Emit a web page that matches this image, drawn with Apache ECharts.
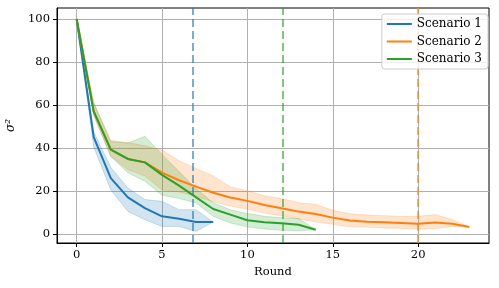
<!DOCTYPE html>
<html><head><meta charset="utf-8">
<script src="https://cdn.jsdelivr.net/npm/echarts@6/dist/echarts.min.js"></script>
<style>html,body{margin:0;padding:0;background:#fff}#c{width:499px;height:288px}</style>
</head><body><div id="c"></div>
<script>
// ---- data ----
const seriesNames = ['Scenario 1', 'Scenario 2', 'Scenario 3'];
const s1Mean = [100, 45, 26, 17, 12, 8.2, 7.1, 5.6, 5.6];
const s1Low  = [100, 40.5, 20.5, 10.5, 6.6, 3.5, 3.5, 1.2, 5.6];
const s1High = [100, 47.5, 31, 21.4, 16, 15.2, 11.3, 11.3, 5.6];

const s2Mean = [100, 57, 39.2, 34.9, 33.3, 28.5, 25, 22, 19.2, 17, 15.4, 13.5, 12, 10.4, 9.3, 7.6, 6.3, 5.7, 5.4, 5.1, 4.8, 5.3, 4.8, 3.2];
const s2Low  = [100, 55, 36, 30, 27, 20.5, 19.5, 17.5, 15, 13, 11.5, 9.7, 8.5, 7, 5.6, 4.5, 3.3, 3.2, 2.8, 2.6, 2.3, 2.5, 3.5, 3.2];
const s2High = [100, 61, 43.5, 42.5, 41, 39, 34, 30.5, 27, 22, 20, 17.8, 16.5, 14.5, 13.8, 11, 9.4, 8.8, 8.5, 8.2, 8.2, 9.0, 6.7, 3.2];

const s3Mean = [100, 57, 39.2, 34.9, 33.3, 27.5, 22.5, 17, 11.6, 9.0, 6.4, 5.5, 5.0, 4.3, 2.0];
const s3Low  = [100, 55.5, 36, 28.5, 24.5, 18, 16.5, 14.4, 8.2, 5.1, 3.3, 2.3, 1.7, 1.5, 2.0];
const s3High = [100, 61, 43, 42.3, 45.4, 37, 29, 21, 14.5, 11.3, 9.5, 8.2, 7.6, 7.2, 2.0];

const stopRounds = [6.8, 20, 12.05];
const xTicks = [0, 5, 10, 15, 20];
const yTicks = [0, 20, 40, 60, 80, 100];
// ---- end data ----

const colors = ['#1f77b4', '#ff7f0e', '#2ca02c'];
const dashColors = ['rgba(31,119,180,0.6)', 'rgba(255,127,14,0.6)', 'rgba(44,160,44,0.6)'];
const bandColors = ['rgba(31,119,180,0.2)', 'rgba(255,127,14,0.2)', 'rgba(44,160,44,0.2)'];
const FONT = 'DejaVu Serif';

const means = [s1Mean, s2Mean, s3Mean];
const lows = [s1Low, s2Low, s3Low];
const highs = [s1High, s2High, s3High];

const series = [];
for (let k = 0; k < 3; k++) {
  const rows = lows[k].map((v, i) => [i, v, highs[k][i]]);
  series.push({
    name: 'band-' + k, type: 'custom', silent: true, z: 1,
    data: rows,
    encode: { x: 0, y: [1, 2] },
    renderItem: function (params, api) {
      if (params.dataIndex !== 0) return null;
      const top = rows.map(r => api.coord([r[0], r[2]]));
      const bot = rows.slice().reverse().map(r => api.coord([r[0], r[1]]));
      return {
        type: 'polygon',
        shape: { points: top.concat(bot) },
        style: { fill: bandColors[k], stroke: bandColors[k], lineWidth: 1 }
      };
    }
  });
}
for (let k = 0; k < 3; k++) {
  series.push({
    name: seriesNames[k], type: 'line',
    data: means[k].map((v, i) => [i, v]),
    showSymbol: false, symbol: 'none',
    lineStyle: { color: colors[k], width: 2 }, itemStyle: { color: colors[k] },
    z: 3,
    markLine: {
      silent: true, symbol: 'none', label: { show: false },
      lineStyle: { color: dashColors[k], type: [8, 4], width: 2 },
      data: [{ xAxis: stopRounds[k] }], z: 2
    }
  });
}

const chart = echarts.init(document.getElementById('c'));
chart.setOption({
  animation: false,
  backgroundColor: '#fff',
  grid: { left: 57, right: 10, top: 8, bottom: 45, show: true, borderColor: '#000', borderWidth: 1, backgroundColor: 'transparent', containLabel: false, outerBoundsMode: 'none' },
  xAxis: {
    type: 'value', min: -1.15, max: 24.15,
    name: 'Round', nameLocation: 'middle', nameGap: 22,
    nameTextStyle: { fontFamily: FONT, fontSize: 11.5, color: '#000' },
    axisLine: { show: true, onZero: false, lineStyle: { color: '#000', width: 1 } },
    axisTick: { show: true, inside: false, length: 4, customValues: xTicks, lineStyle: { color: '#000' } },
    axisLabel: { customValues: xTicks, fontFamily: FONT, fontSize: 11.5, color: '#000', margin: 6 },
    splitLine: { show: true, lineStyle: { color: '#b0b0b0', width: 1 } }
  },
  yAxis: {
    type: 'value', min: -4.2, max: 105.1,
    name: 'σ²', nameLocation: 'middle', nameGap: 38, nameRotate: 90,
    nameTextStyle: { fontFamily: FONT, fontSize: 12, color: '#000', fontStyle: 'italic' },
    axisLine: { show: true, onZero: false, lineStyle: { color: '#000', width: 1 } },
    axisTick: { show: true, inside: false, length: 4, customValues: yTicks, lineStyle: { color: '#000' } },
    axisLabel: { customValues: yTicks, fontFamily: FONT, fontSize: 11.5, color: '#000', margin: 7 },
    splitLine: { show: true, lineStyle: { color: '#b0b0b0', width: 1 } }
  },
  legend: {
    data: seriesNames, orient: 'vertical', right: 11, top: 14,
    icon: 'rect', itemWidth: 25, itemHeight: 2, itemGap: 3.5,
    padding: [3, 6, 3, 5],
    borderColor: '#cccccc', borderWidth: 1, borderRadius: 3,
    backgroundColor: 'rgba(255,255,255,0.8)',
    textStyle: { fontFamily: FONT, fontSize: 12, color: '#000', lineHeight: 14 }
  },
  series: series
});
</script>
</body></html>
